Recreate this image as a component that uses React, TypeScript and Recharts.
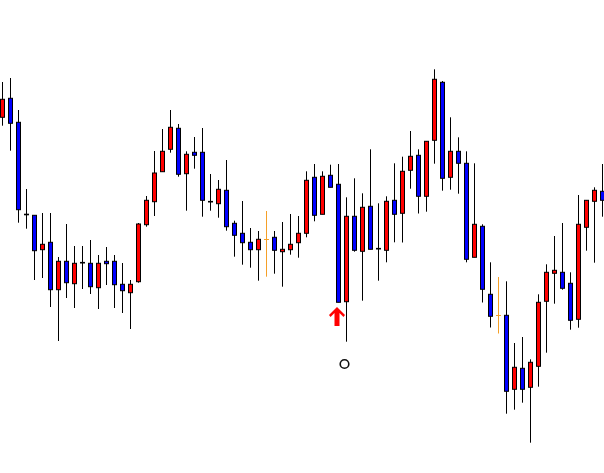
import React from "react";
import { ComposedChart, Bar, XAxis, YAxis, ReferenceDot } from "recharts";

// price levels (arbitrary units, higher = up)
const opens = [
  355.7, 374.7, 350.7, 258.8, 257.7, 223.3, 230.7, 183.3, 211.7, 189.3,
  210.6, 209.7, 185.3, 211.7, 211.7, 188.7, 180.3, 191.3, 248.3, 271.3,
  301.3, 323.7, 344.7, 299.3, 320.7, 320.7, 271.6, 269.3, 282.7, 249.7,
  239.7, 230.7, 223.3, 233.7, 235.7, 221.3, 223.3, 230.3, 239.7, 295.7,
  258.7, 297.7, 288.7, 171.3, 256.7, 221.7, 266.7, 224.6, 222.7, 272.7,
  259.7, 302.7, 317.7, 276.7, 332.7, 390.7, 295.7, 321.7, 309.7, 215.7,
  246.7, 178.7, 157.7, 157.7, 83.7, 104.7, 85.7, 106.7, 171.7, 199.7,
  200.7, 189.7, 153.7, 245.7, 271.7, 281.7,
];
const highs = [
  391, 395, 363, 284, 257.7, 260, 260, 216, 249, 227,
  227, 233, 218, 226, 218, 210, 193, 250, 277, 322,
  344, 363, 349, 321.7, 336, 345, 299, 293, 313, 252.3,
  272, 245, 242, 262, 242, 251, 259, 257, 301.7, 309,
  301.7, 308.3, 309, 275.7, 294.7, 279.7, 323.7, 269.7, 276.7, 309.7,
  316.3, 342, 323.7, 331.7, 403.7, 392, 355.7, 335.7, 321.7, 309.7,
  248.7, 210.7, 196, 191.7, 130, 136, 113.7, 178.7, 208.7, 237,
  250, 200.7, 278, 272.7, 285.7, 309,
];
const lows = [
  347.3, 322.3, 250.3, 244.3, 193, 195, 166, 132, 175, 165,
  184, 179, 164, 188, 165, 160, 144, 190.3, 246.3, 257,
  301.3, 320.3, 296.3, 262.3, 304.3, 256.3, 262.3, 255.3, 242.3, 216.3,
  208.3, 205.3, 192.3, 196.3, 199.3, 186.3, 218.3, 215.3, 235.7, 251.7,
  258.7, 285.7, 170.7, 131.3, 221.3, 172.3, 223.7, 192.3, 210.7, 230.7,
  230.5, 284.3, 259.5, 261.3, 309.3, 282.3, 283.3, 279.3, 210.7, 215.7,
  170.5, 145.5, 139.5, 59.3, 63.3, 70.3, 30.3, 86.3, 120.3, 169.3,
  183.3, 143.3, 145.3, 222.3, 210.3, 256.3,
];
const closes = [
  373.7, 349.7, 263.3, 258.2, 222.3, 228.7, 183.3, 211.7, 190.3, 209.7,
  210.0, 186.3, 209.7, 209.3, 188.3, 182.3, 188.7, 249, 272.7, 300,
  321.7, 345.7, 298.7, 318.7, 317.7, 272.7, 271.0, 283.7, 246.3, 237.7,
  230.3, 223.3, 233.7, 233.7, 222.7, 223.7, 228.7, 239.7, 292.7, 257.7,
  296.7, 285.7, 170.7, 256.7, 222.7, 265.7, 223.7, 224.0, 271.7, 258.7,
  301.7, 316.7, 276.7, 331.7, 393.7, 294.7, 321.7, 309.7, 213.7, 248.7,
  183.7, 156.7, 157.7, 81.7, 105.7, 83.7, 110.7, 170.7, 200.7, 202.7,
  184.7, 152.7, 248.7, 272.7, 282.7, 272.7,
];

// signal markers
const arrowBar = 42;
const arrowLevel = 166;
const circleBar = 43;
const circleLevel = 109;

const UP = "#ff0000";
const DOWN = "#0000ff";
const FLAT = "#f5a028";

const data = opens.map((o, i) => ({
  i,
  open: o,
  high: highs[i],
  low: lows[i],
  close: closes[i],
}));

function Candle(props: any) {
  const { x, y, width, height, payload } = props;
  if (payload == null || x == null) return null;
  const { open, high, low, close } = payload;
  const top = Math.min(y, y + height);
  const bottom = Math.max(y, y + height);
  const toY = (v: number) => top + ((high - v) / (high - low)) * (bottom - top);
  const cx = x + width / 2;

  if (open === close) {
    const yy = Math.round(toY(open)) + 0.5;
    return (
      <g>
        <line x1={cx} x2={cx} y1={top} y2={bottom} stroke={FLAT} strokeWidth={1} />
        <line x1={cx - 2.5} x2={cx + 2.5} y1={yy} y2={yy} stroke={FLAT} strokeWidth={1} />
      </g>
    );
  }

  const bTop = toY(Math.max(open, close));
  const bBot = toY(Math.min(open, close));
  return (
    <g>
      <line x1={cx} x2={cx} y1={top} y2={bottom} stroke="#000" strokeWidth={1} />
      <rect
        x={cx - 2}
        y={bTop}
        width={4}
        height={Math.max(bBot - bTop, 0.6)}
        fill={close > open ? UP : DOWN}
        stroke="#000"
        strokeWidth={1}
      />
    </g>
  );
}

function ArrowUp(props: any) {
  const { cx, cy } = props;
  return (
    <path
      transform={`translate(${cx - 1},${cy})`}
      d="M0 0 L8 8 L6.5 10 L2.5 6 L2.5 19 L-2.5 19 L-2.5 6 L-6.5 10 L-8 8 Z"
      fill="#ff0000"
    />
  );
}

function Ring(props: any) {
  const { cx, cy } = props;
  return <circle cx={cx - 1.5} cy={cy} r={4.3} fill="none" stroke="#111" strokeWidth={1.6} />;
}

export default function App() {
  return (
    <div
      style={{
        position: "fixed",
        left: 0,
        top: 0,
        width: 604,
        height: 473,
        overflow: "hidden",
        background: "#fff",
      }}
    >
      <div style={{ position: "absolute", left: -2.5, top: 0 }}>
        <ComposedChart
          width={608}
          height={473}
          data={data}
          margin={{ top: 0, right: 0, bottom: 0, left: 0 }}
        >
          <XAxis dataKey="i" type="category" hide />
          <YAxis type="number" domain={[0, 473]} hide allowDataOverflow />
          <Bar
            dataKey={(d: any) => [d.low, d.high]}
            shape={<Candle />}
            barSize={5}
            isAnimationActive={false}
          />
          <ReferenceDot x={arrowBar} y={arrowLevel} shape={<ArrowUp />} ifOverflow="visible" />
          <ReferenceDot x={circleBar} y={circleLevel} shape={<Ring />} ifOverflow="visible" />
        </ComposedChart>
      </div>
    </div>
  );
}
